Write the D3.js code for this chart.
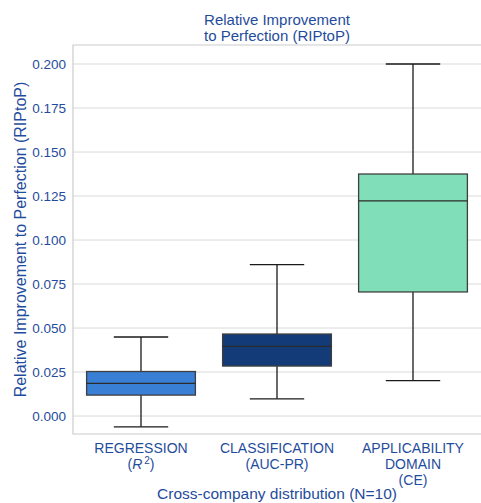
<!DOCTYPE html>
<html>
<head>
<meta charset="utf-8">
<script src="https://cdn.jsdelivr.net/npm/d3@7"></script>
<style>
  body { margin: 0; background: #fff; }
  text { font-family: "Liberation Sans", Arial, sans-serif; }
</style>
</head>
<body>
<script>
// Box plot summary values
var categories = ["REGRESSION", "CLASSIFICATION", "APPLICABILITY"];
var tickLines = [["REGRESSION", "R2"], ["CLASSIFICATION", "(AUC-PR)"], ["APPLICABILITY", "DOMAIN", "(CE)"]];
var whiskerLow = [-0.0061, 0.0098, 0.0201];
var q1 = [0.0119, 0.0284, 0.0705];
var median = [0.0186, 0.0396, 0.1223];
var q3 = [0.0253, 0.0466, 0.1375];
var whiskerHigh = [0.0449, 0.0860, 0.2000];
var boxColors = ["#3a7fd6", "#123b78", "#80dfb8"];
var yTicks = [0, 0.025, 0.05, 0.075, 0.1, 0.125, 0.15, 0.175, 0.2];

var textColor = "#1f4c9c";
var margin = { top: 45, right: 0, bottom: 69, left: 73 },
    width = 481 - margin.left - margin.right,
    height = 503 - margin.top - margin.bottom;

var svg = d3.select("body").append("svg")
    .attr("width", 481)
    .attr("height", 503);

var g = svg.append("g")
    .attr("transform", "translate(" + margin.left + "," + margin.top + ")");

var x = d3.scaleBand()
    .domain(categories)
    .range([0, width])
    .paddingInner(0.2)
    .paddingOuter(0.1);

var y = d3.scaleLinear()
    .domain([-0.0102, 0.2108])
    .range([height, 0]);

// grid lines
g.selectAll(".grid")
    .data(yTicks)
    .enter().append("line")
    .attr("x1", 0).attr("x2", width)
    .attr("y1", function (d) { return y(d); })
    .attr("y2", function (d) { return y(d); })
    .attr("stroke", "#d9d9d9")
    .attr("stroke-width", 1);

// spines (right one falls outside the picture)
g.append("path")
    .attr("d", "M" + (width + 2) + ",0H0V" + height + "H" + (width + 2))
    .attr("fill", "none")
    .attr("stroke", "#cccccc")
    .attr("stroke-width", 1.2);

// y axis
var yAxis = g.append("g")
    .call(d3.axisLeft(y).tickValues(yTicks).tickFormat(d3.format(".3f")).tickSize(0).tickPadding(7));
yAxis.select(".domain").remove();
yAxis.selectAll("text")
    .attr("fill", textColor)
    .style("font-size", "13.5px")
    .style("font-family", "Liberation Sans, Arial, sans-serif");

// boxes
var idx = d3.range(categories.length);
var boxW = x.bandwidth();
var capW = boxW / 2;

var boxes = g.selectAll(".box")
    .data(idx)
    .enter().append("g")
    .attr("transform", function (i) { return "translate(" + (x(categories[i]) + boxW / 2) + ",0)"; });

// whisker lines
boxes.append("line")
    .attr("x1", 0).attr("x2", 0)
    .attr("y1", function (i) { return y(whiskerHigh[i]); })
    .attr("y2", function (i) { return y(q3[i]); })
    .attr("stroke", "#1a1a1a").attr("stroke-width", 1.3);
boxes.append("line")
    .attr("x1", 0).attr("x2", 0)
    .attr("y1", function (i) { return y(q1[i]); })
    .attr("y2", function (i) { return y(whiskerLow[i]); })
    .attr("stroke", "#1a1a1a").attr("stroke-width", 1.3);
// caps
boxes.append("line")
    .attr("x1", -capW / 2).attr("x2", capW / 2)
    .attr("y1", function (i) { return y(whiskerHigh[i]); })
    .attr("y2", function (i) { return y(whiskerHigh[i]); })
    .attr("stroke", "#1a1a1a").attr("stroke-width", 1.3);
boxes.append("line")
    .attr("x1", -capW / 2).attr("x2", capW / 2)
    .attr("y1", function (i) { return y(whiskerLow[i]); })
    .attr("y2", function (i) { return y(whiskerLow[i]); })
    .attr("stroke", "#1a1a1a").attr("stroke-width", 1.3);
// box
boxes.append("rect")
    .attr("x", -boxW / 2)
    .attr("width", boxW)
    .attr("y", function (i) { return y(q3[i]); })
    .attr("height", function (i) { return y(q1[i]) - y(q3[i]); })
    .attr("fill", function (i) { return boxColors[i]; })
    .attr("stroke", "#3f3f3f")
    .attr("stroke-width", 1.3);
// median
boxes.append("line")
    .attr("x1", -boxW / 2).attr("x2", boxW / 2)
    .attr("y1", function (i) { return y(median[i]); })
    .attr("y2", function (i) { return y(median[i]); })
    .attr("stroke", "#2b2b2b").attr("stroke-width", 1.3);

// x tick labels
var xl = g.selectAll(".xlab")
    .data(idx)
    .enter().append("text")
    .attr("text-anchor", "middle")
    .attr("fill", textColor)
    .style("font-size", "14px")
    .attr("transform", function (i) { return "translate(" + (x(categories[i]) + boxW / 2) + "," + (height + 19) + ")"; });

xl.each(function (i) {
    var t = d3.select(this);
    tickLines[i].forEach(function (line, k) {
        if (line === "R2") {
            var ts = t.append("tspan").attr("x", 0).attr("dy", k === 0 ? 0 : 16);
            ts.text("(");
            ts.append("tspan").style("font-style", "italic").text("R");
            ts.append("tspan").attr("dy", -5).style("font-size", "10px").text("\u20092");
            ts.append("tspan").attr("dy", 5).text(")");
        } else {
            t.append("tspan").attr("x", 0).attr("dy", k === 0 ? 0 : 16).text(line);
        }
    });
});

// x axis title
svg.append("text")
    .attr("x", margin.left + width / 2)
    .attr("y", 499)
    .attr("text-anchor", "middle")
    .attr("fill", textColor)
    .style("font-size", "15.5px")
    .text("Cross-company distribution (N=10)");

// y axis title
svg.append("text")
    .attr("transform", "translate(26," + (margin.top + height / 2) + ") rotate(-90)")
    .attr("text-anchor", "middle")
    .attr("fill", textColor)
    .style("font-size", "16px")
    .text("Relative Improvement to Perfection (RIPtoP)");

// title
var title = svg.append("text")
    .attr("x", margin.left + width / 2)
    .attr("y", 25)
    .attr("text-anchor", "middle")
    .attr("fill", textColor)
    .style("font-size", "15px");
title.append("tspan").attr("x", margin.left + width / 2).text("Relative Improvement");
title.append("tspan").attr("x", margin.left + width / 2).attr("dy", 16).text("to Perfection (RIPtoP)");
</script>
</body>
</html>
